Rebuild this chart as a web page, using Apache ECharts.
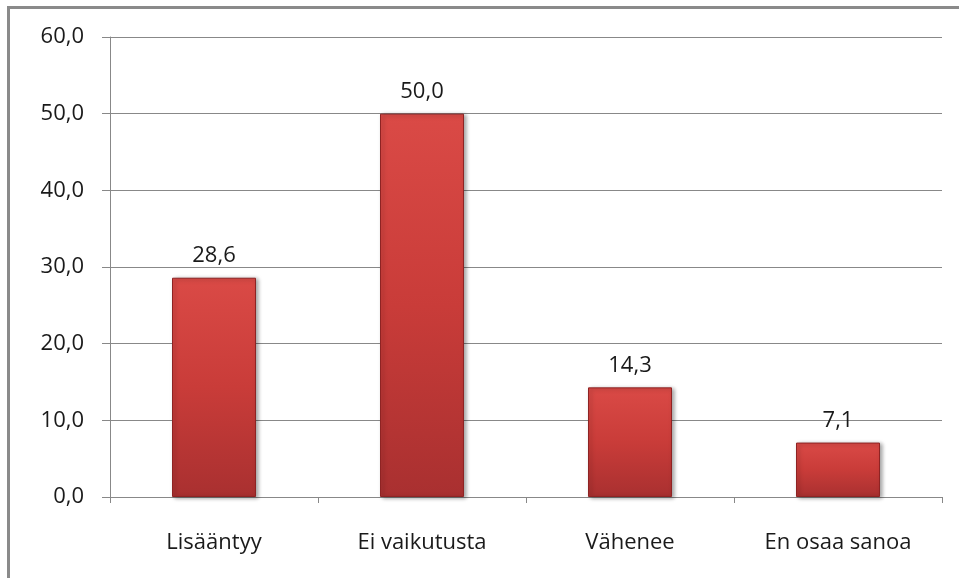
<!DOCTYPE html>
<html>
<head>
<meta charset="utf-8">
<script src="https://cdn.jsdelivr.net/npm/echarts@6/dist/echarts.min.js"></script>
<style>
  html, body { margin: 0; padding: 0; background: #fff; }
  .frame {
    position: absolute;
    left: 7px;
    top: 6px;
    right: 0;
    bottom: 0;
    border-top: 3px solid #8a8a8a;
    border-left: 3px solid #8a8a8a;
  }
  #chart { position: absolute; left: 0; top: 0; width: 959px; height: 578px; }
</style>
</head>
<body>
<div class="frame"></div>
<div id="chart"></div>
<script>
const categories = ['Lisääntyy', 'Ei vaikutusta', 'Vähenee', 'En osaa sanoa']
const values = [28.6, 50.0, 14.3, 7.1]

const fmt = (v) => Number(v).toFixed(1).replace('.', ',')
const font = '"Open Sans", "Noto Sans", sans-serif'

const chart = echarts.init(document.getElementById('chart'))

chart.setOption({
  animation: false,
  grid: { left: 110, right: 17, top: 37, bottom: 81 },
  xAxis: {
    type: 'category',
    data: categories,
    axisLine: { lineStyle: { color: '#888', width: 1 } },
    axisTick: { show: true, length: 6, lineStyle: { color: '#888' } },
    axisLabel: { color: '#1a1a1a', fontSize: 22, fontFamily: font, margin: 35 },
  },
  yAxis: {
    type: 'value',
    min: 0,
    max: 60,
    interval: 10,
    axisLine: { show: true, lineStyle: { color: '#888', width: 1 } },
    axisTick: { show: true, length: 8, lineStyle: { color: '#888' } },
    axisLabel: { color: '#1a1a1a', fontSize: 22, fontFamily: font, margin: 26, formatter: fmt },
    splitLine: { lineStyle: { color: '#888', width: 1 } },
  },
  series: [
    {
      type: 'bar',
      data: values,
      barWidth: 84,
      itemStyle: {
        color: new echarts.graphic.LinearGradient(0, 0, 0, 1, [
          { offset: 0, color: '#da4a46' },
          { offset: 0.5, color: '#c93c39' },
          { offset: 1, color: '#a93030' },
        ]),
        borderColor: '#8e2323',
        borderWidth: 1,
        shadowColor: 'rgba(0,0,0,0.35)',
        shadowBlur: 4,
        shadowOffsetX: 2,
        shadowOffsetY: 1,
      },
      label: {
        show: true,
        position: 'top',
        distance: 11,
        color: '#1a1a1a',
        fontSize: 22,
        fontFamily: font,
        formatter: (p) => fmt(p.value),
      },
    },
  ],
})
</script>
</body>
</html>
